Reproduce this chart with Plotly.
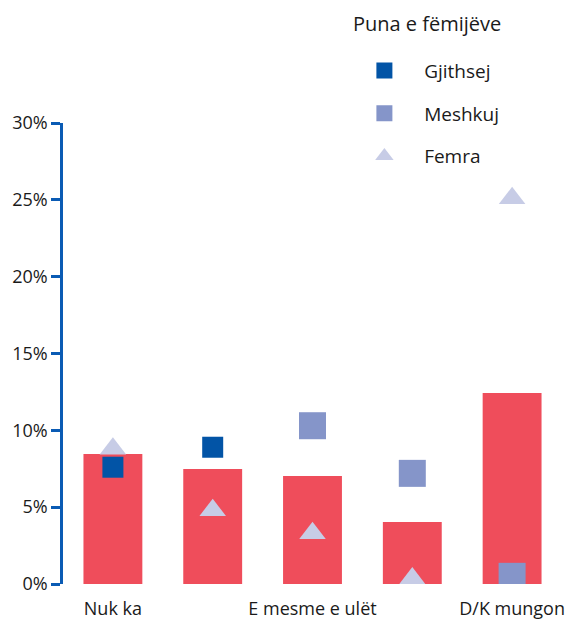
import plotly.graph_objects as go

categories = ["Nuk ka", "Fillore", "E mesme e ulët", "E mesme e lartë", "D/K mungon"]
shown_ticks = ["Nuk ka", "E mesme e ulët", "D/K mungon"]
bar_values = [8.46, 7.48, 7.03, 4.03, 12.43]
gjithsej = [7.6, 8.9, None, None, None]
meshkuj = [None, None, 10.3, 7.2, 0.5]
femra = [8.8, 4.8, 3.3, 0.35, 25.1]
legend_title = "Puna e fëmijëve"
series_names = ["Gjithsej", "Meshkuj", "Femra"]

FONT = "Open Sans"
RED = "#EF4D5B"
DARK = "#0254A6"
MID = "#8595C9"
LIGHT = "#C7CCE6"
AXIS = "#0A5BB4"
PAD = "\u00a0" * 4

fig = go.Figure()
fig.add_trace(go.Bar(x=categories, y=bar_values, marker=dict(color=RED, line=dict(width=0)),
                     showlegend=False, hoverinfo="skip"))
fig.add_trace(go.Scatter(x=categories, y=gjithsej, mode="markers", name=PAD + series_names[0], legendgroup="g1",
                         marker=dict(symbol="square", size=21, color=DARK, line=dict(width=0))))
fig.add_trace(go.Scatter(x=categories, y=meshkuj, mode="markers", name=PAD + series_names[1], legendgroup="g2",
                         marker=dict(symbol="square", size=27, color=MID, line=dict(width=0))))
fig.add_trace(go.Scatter(x=categories, y=femra, mode="markers", name=PAD + series_names[2], legendgroup="g3",
                         marker=dict(symbol="triangle-up", size=23, color=LIGHT, line=dict(width=0))))

# page body has an 8px margin, so the figure is sized to fit the remaining window
fig.update_layout(
    width=566, height=615,
    margin=dict(l=55, r=12, t=115, b=39, autoexpand=False),
    paper_bgcolor="white", plot_bgcolor="white",
    font=dict(family=FONT, size=18, color="#1a1a1a"),
    bargap=0.41,
    showlegend=True,
    legend=dict(x=0.604, xanchor="left", y=1.1546, yanchor="top", tracegroupgap=15,
                font=dict(family=FONT, size=19, color="#1a1a1a"), bgcolor="rgba(0,0,0,0)"),
    annotations=[dict(text=legend_title, xref="paper", yref="paper", x=0.577, y=1.2495,
                      xanchor="left", yanchor="top", showarrow=False,
                      font=dict(family=FONT, size=20, color="#1a1a1a"))],
)
fig.update_xaxes(type="category", range=[-0.5, 4.5], tickmode="array", tickvals=shown_ticks,
                 ticktext=shown_ticks, showline=False, showgrid=False, zeroline=False,
                 ticks="outside", ticklen=8, tickcolor="rgba(0,0,0,0)", automargin=False)
fig.update_yaxes(range=[0, 30], dtick=5, ticksuffix="%", showgrid=False, zeroline=False,
                 showline=True, linecolor=AXIS, linewidth=2.5, ticks="outside", ticklen=9,
                 tickwidth=2.5, tickcolor=AXIS, automargin=False)

fig.write_html("out.html")
